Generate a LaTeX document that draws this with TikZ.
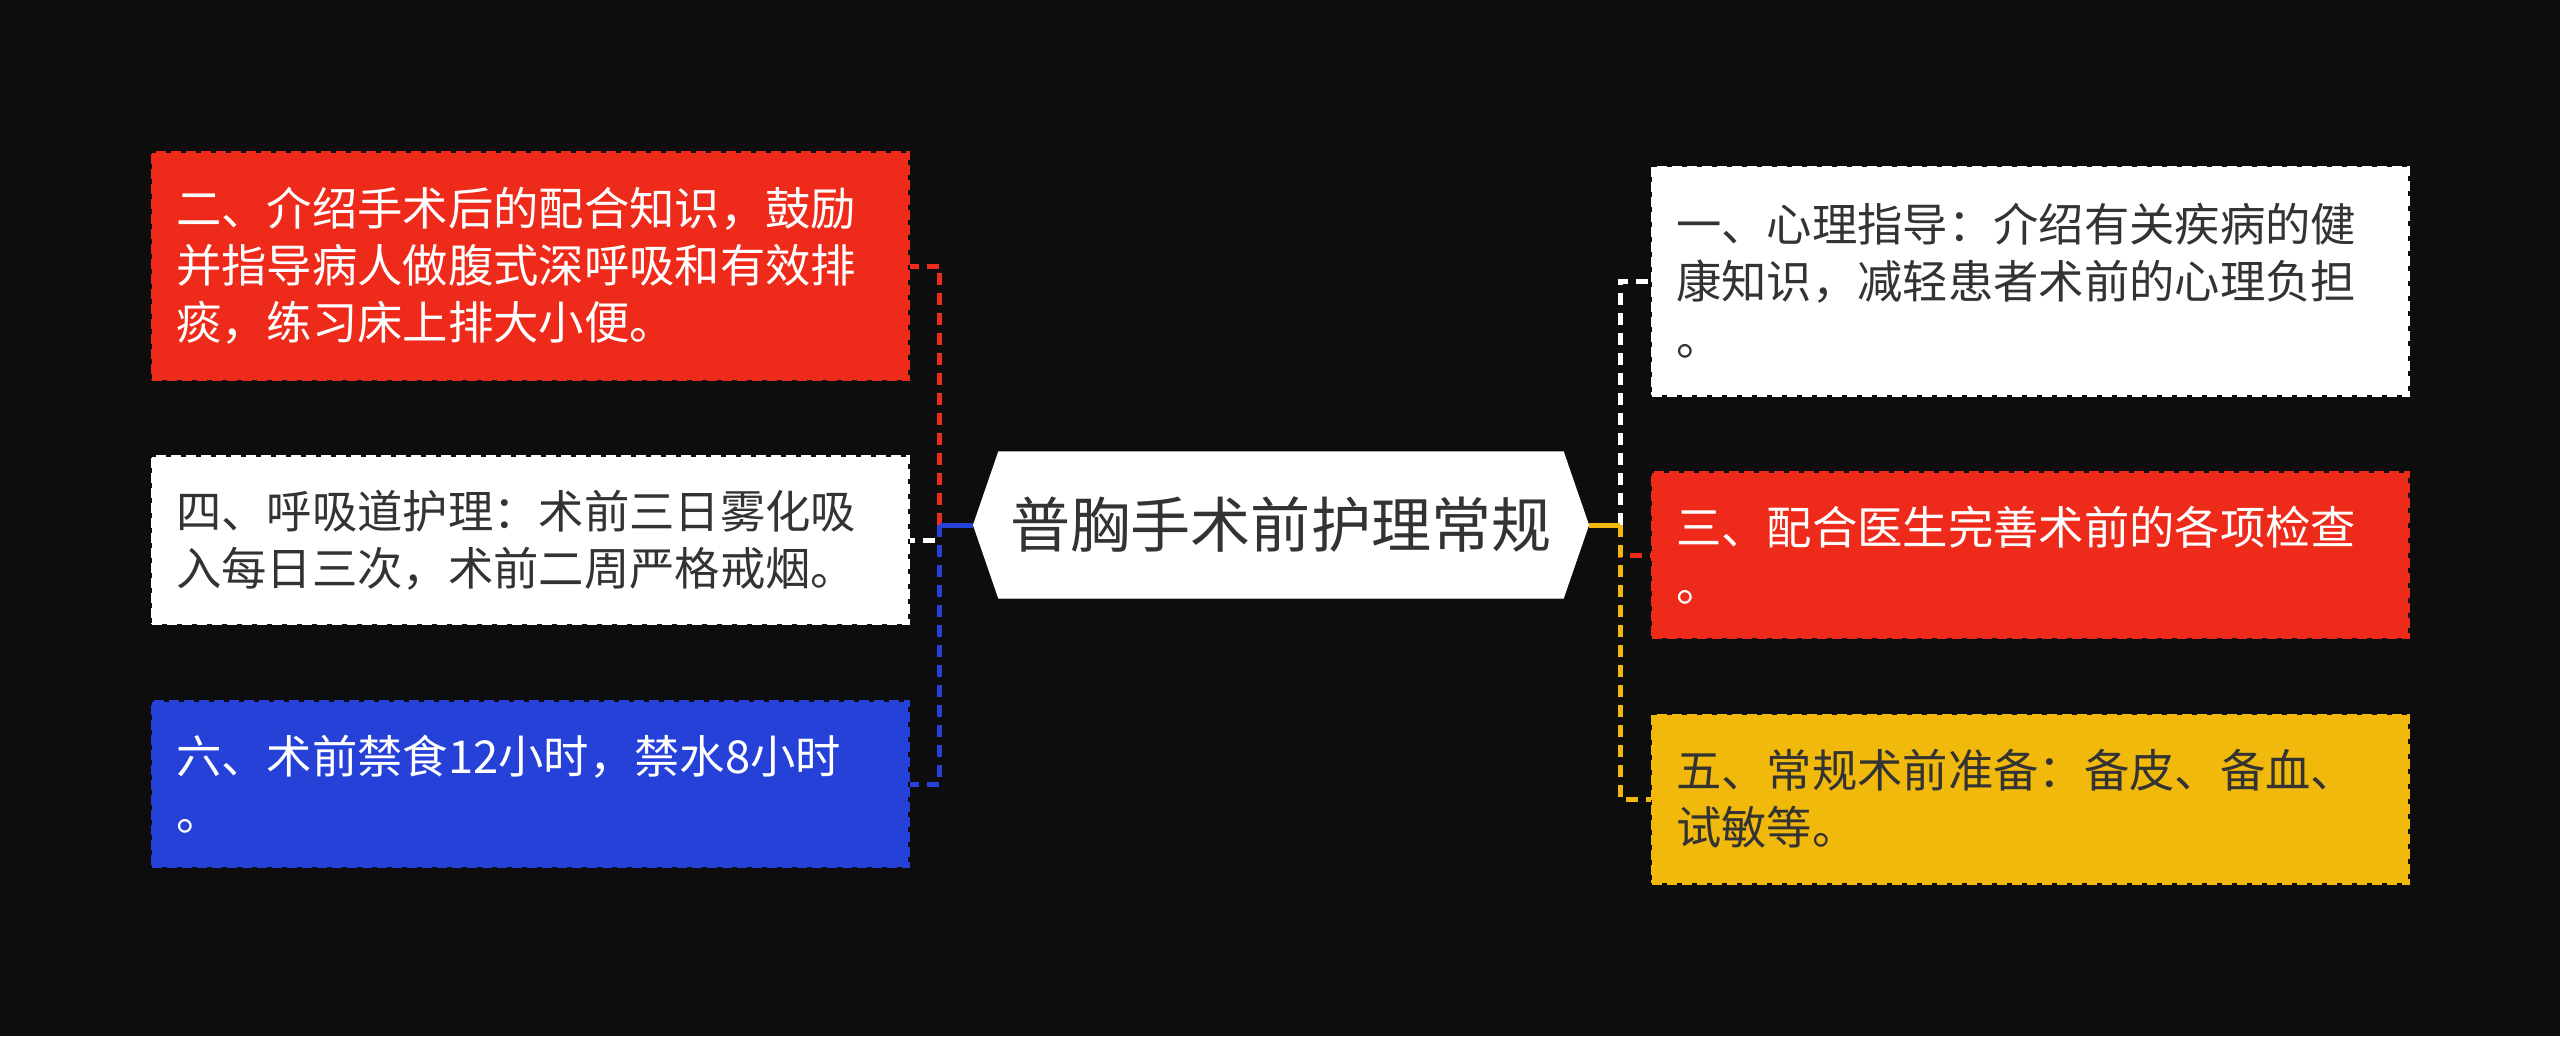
\documentclass[tikz,border=0pt]{standalone}
\usepackage{fontspec}
\newfontfamily\cjk{Noto Sans CJK SC}
\usetikzlibrary{shapes.symbols}
\definecolor{bg}{HTML}{0D0D0D}
\definecolor{cred}{HTML}{EE2A1B}
\definecolor{cblue}{HTML}{2541D8}
\definecolor{cyellow}{HTML}{F0B90C}
\definecolor{ctext}{HTML}{333333}

\begin{document}
\begin{tikzpicture}
      \tikzstyle{leaf}=[rectangle, text width=7.08cm, inner xsep=0.24cm, inner ysep=0pt, align=left, font=\cjk\fontsize{12.9pt}{16.2pt}\selectfont, dash pattern=on 0.1cm off 0.05cm, line width=0.03cm]
      \tikzstyle{redleaf}=[leaf, fill=cred, draw=cred, text=white]
      \tikzstyle{whiteleaf}=[leaf, fill=white, draw=white, text=ctext]
      \tikzstyle{blueleaf}=[leaf, fill=cblue, draw=cblue, text=white]
      \tikzstyle{yellowleaf}=[leaf, fill=cyellow, draw=cyellow, text=ctext]
      \tikzstyle{link}=[line width=0.05cm, dash pattern=on 0.12cm off 0.08cm]
      \tikzstyle{stem}=[line width=0.05cm]

      \fill[bg] (0,0) rectangle (25.6,-10.36);
      \useasboundingbox (0,0) rectangle (25.6,-10.36);

      \node[signal, signal to=west and east, signal pointer angle=142, fill=white, draw=white, minimum width=6.12cm, minimum height=1.46cm, text=ctext, font=\cjk\fontsize{17.1pt}{20pt}\selectfont] (root) at (12.81,-5.25) {普胸手术前护理常规};
      \coordinate (lj) at ([xshift=-0.33cm]root.west);
      \coordinate (rj) at ([xshift=0.31cm]root.east);

      \node[redleaf, minimum height=2.27cm] (n2) at (5.30,-2.66) {二、介绍手术后的配合知识，鼓励\\并指导病人做腹式深呼吸和有效排\\痰，练习床上排大小便。};
      \node[whiteleaf, minimum height=1.67cm] (n4) at (5.30,-5.40) {四、呼吸道护理：术前三日雾化吸\\入每日三次，术前二周严格戒烟。};
      \node[blueleaf, minimum height=1.65cm] (n6) at (5.30,-7.84) {六、术前禁食12小时，禁水8小时\\。};

      \node[whiteleaf, minimum height=2.28cm] (n1) at (20.30,-2.81) {一、心理指导：介绍有关疾病的健\\康知识，减轻患者术前的心理负担\\。};
      \node[redleaf, minimum height=1.65cm] (n3) at (20.30,-5.55) {三、配合医生完善术前的各项检查\\。};
      \node[yellowleaf, minimum height=1.68cm] (n5) at (20.30,-7.99) {五、常规术前准备：备皮、备血、\\试敏等。};

      \draw[link, cred] (lj) |- (n2.east);
      \draw[link, white] (lj) |- (n4.east);
      \draw[link, cblue] (lj) |- (n6.east);
      \draw[stem, cblue] (root.west) -- (lj);
      \draw[link, white] (rj) |- (n1.west);
      \draw[link, cred] (rj) |- (n3.west);
      \draw[link, cyellow] (rj) |- (n5.west);
      \draw[stem, cyellow] (root.east) -- (rj);
    \end{tikzpicture}
\end{document}
